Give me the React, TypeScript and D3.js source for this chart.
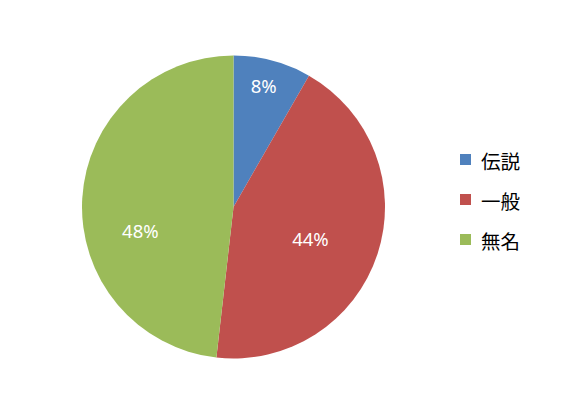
import React from "react";
import * as d3 from "d3";

const categories = ["伝説", "一般", "無名"];
const values = [8.3, 43.5, 48.2];
const colors = ["#4F81BD", "#C0504D", "#9BBB59"];
// label placement (radius, angle in degrees) as styling choices
const labelRadius = [125, 83, 96];
const labelAngle = [14, 112, 256];

export default function App() {
  const W = 587, H = 414;
  const cx = 233.5, cy = 207, r = 151.5;
  const pie = d3.pie<number>().sort(null).value((d) => d);
  const arcs = pie(values);
  const arc = d3.arc<d3.PieArcDatum<number>>().innerRadius(0).outerRadius(r);
  const total = d3.sum(values);
  return (
    <svg width={W} height={H} style={{ position: "absolute", left: 0, top: 0 }}>
      <rect width={W} height={H} fill="#fff" />
      <g transform={`translate(${cx},${cy})`}>
        {arcs.map((a, i) => (
          <path key={i} d={arc(a) || ""} fill={colors[i]} />
        ))}
        {arcs.map((a, i) => {
          const ang = (labelAngle[i] * Math.PI) / 180;
          const x = Math.sin(ang) * labelRadius[i];
          const y = -Math.cos(ang) * labelRadius[i];
          return (
            <text key={i} x={x} y={y} fill="#fff" fontSize={18.5} fontFamily="'Noto Sans', sans-serif"
              textAnchor="middle" dominantBaseline="central">
              {Math.round((a.value / total) * 100)}%
            </text>
          );
        })}
      </g>
      <g transform="translate(460,154)">
        {categories.map((c, i) => (
          <g key={c} transform={`translate(0,${i * 40})`}>
            <rect width={11} height={11} fill={colors[i]} />
            <text x={21} y={6} fontSize={19.5} fontFamily="'Noto Sans CJK JP', sans-serif" dominantBaseline="central" fill="#000">
              {c}
            </text>
          </g>
        ))}
      </g>
    </svg>
  );
}
